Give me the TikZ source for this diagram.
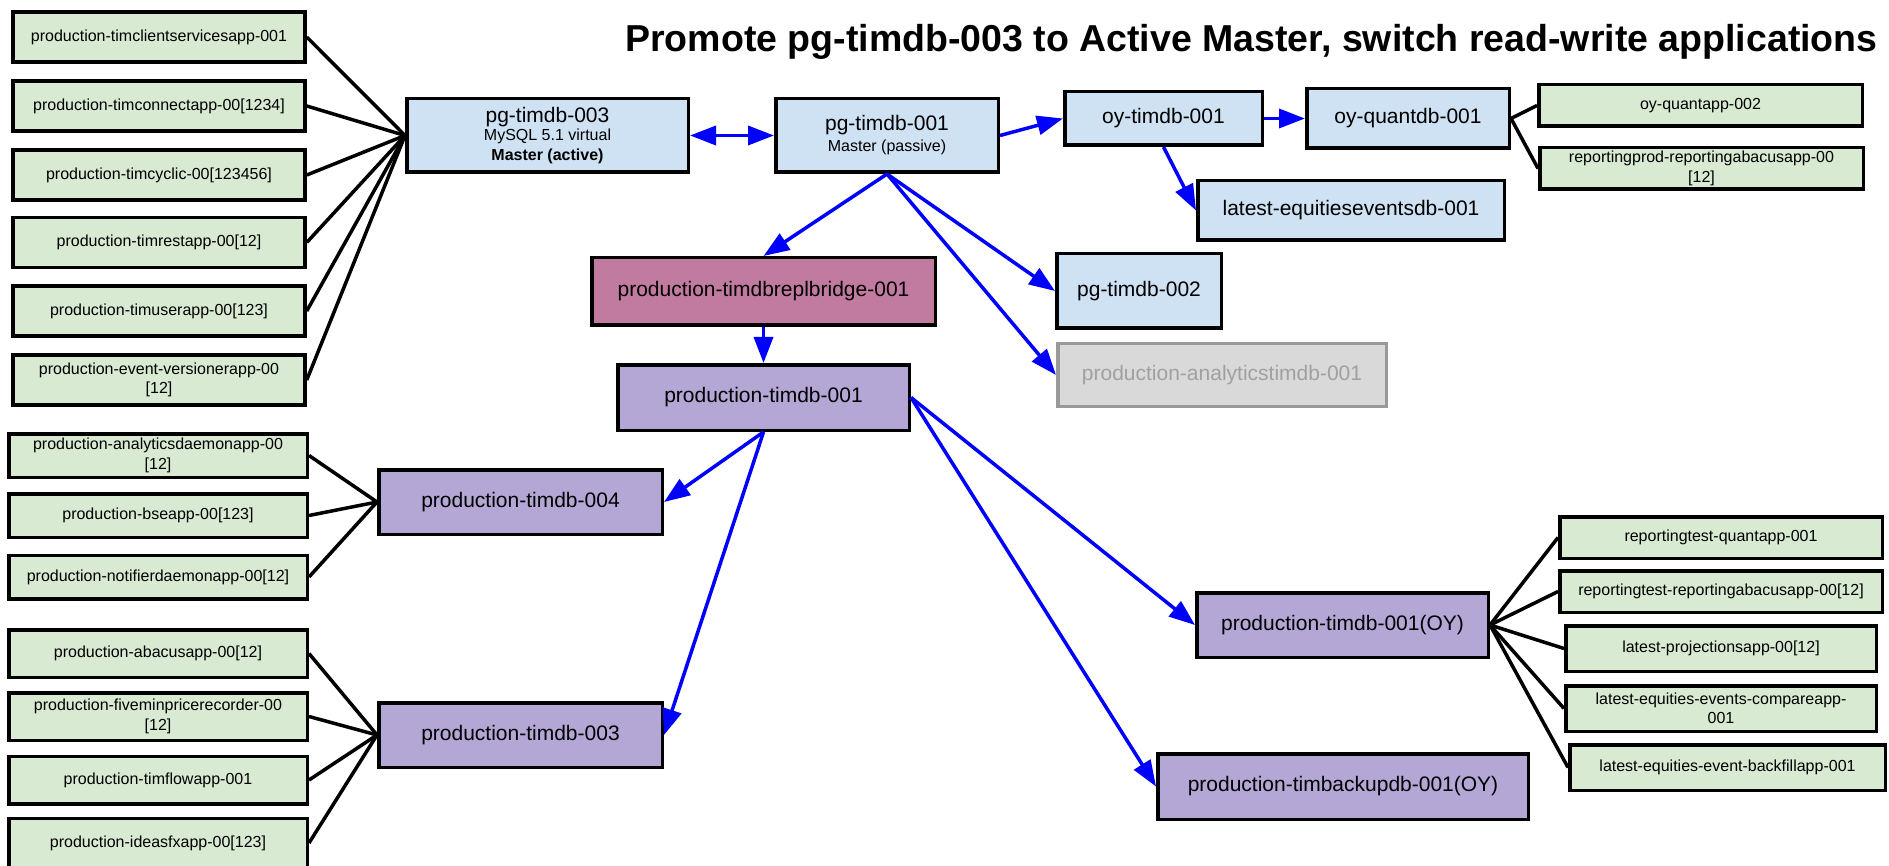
\documentclass[tikz,border=0pt]{standalone}
\usepackage{fontspec}
\setmainfont{Liberation Sans}
\usetikzlibrary{arrows.meta}
\definecolor{appgreen}{HTML}{D9EAD3}
\definecolor{dbblue}{HTML}{CFE2F3}
\definecolor{bridgepink}{HTML}{C27BA0}
\definecolor{prodpurple}{HTML}{B4A7D6}
\definecolor{offgrey}{HTML}{D9D9D9}
\definecolor{offborder}{HTML}{999999}
\definecolor{offtext}{HTML}{A0A0A0}
\definecolor{repblue}{HTML}{0000FF}
\tikzset{
  box/.style={draw=black, line width=3.5pt, inner sep=0pt, align=center,
    font=\fontsize{21}{23}\selectfont},
  app/.style={box, fill=appgreen, font=\fontsize{16}{19.5}\selectfont},
  bluedb/.style={box, fill=dbblue},
  proddb/.style={box, fill=prodpurple},
  bridgedb/.style={box, fill=bridgepink},
  offdb/.style={box, draw=offborder, fill=offgrey, text=offtext},
  link/.style={line width=3.5pt, black},
  rep/.style={line width=3.5pt, repblue, -{Triangle[length=26pt,width=19pt]}},
  birep/.style={line width=3.5pt, repblue, {Triangle[length=26pt,width=19pt]}-{Triangle[length=26pt,width=19pt]}},
  titletext/.style={font=\fontsize{37.5}{40}\selectfont\bfseries, inner sep=0pt}
}
\begin{document}
\begin{tikzpicture}[x=1pt,y=-1pt]
\useasboundingbox (0,0) rectangle (1889,866);
\fill[white] (0,0) rectangle (1889,866);

% title
\node[titletext, anchor=base] (title) at (1251.5,52) {Promote pg-timdb-003 to Active Master, switch read-write applications};

% left app group (pg-timdb-003)
\node[app, minimum width=292pt, minimum height=50pt] (g1) at (159,37) {production-timclientservicesapp-001};
\node[app, minimum width=292pt, minimum height=50pt] (g2) at (159,106) {production-timconnectapp-00[1234]};
\node[app, minimum width=292pt, minimum height=50pt] (g3) at (159,175) {production-timcyclic-00[123456]};
\node[app, minimum width=292pt, minimum height=50pt] (g4) at (159,242.5) {production-timrestapp-00[12]};
\node[app, minimum width=292pt, minimum height=50pt] (g5) at (159,311) {production-timuserapp-00[123]};
\node[app, minimum width=292pt, minimum height=50pt] (g6) at (159,380) {production-event-versionerapp-00\\{}[12]};

% database nodes
\node[bluedb, minimum width=281.5pt, minimum height=73.5pt] (p3) at (547.5,135.5)
  {pg-timdb-003\\[-5pt]{\fontsize{16}{19}\selectfont MySQL 5.1 virtual}\\[-3pt]{\fontsize{16}{19}\selectfont\bfseries Master (active)}};
\node[bluedb, minimum width=222.5pt, minimum height=73.5pt] (p1) at (887,135.5)
  {pg-timdb-001\\[-2pt]{\fontsize{16}{19}\selectfont Master (passive)}};
\node[bluedb, minimum width=197.5pt, minimum height=53.5pt] (oyt) at (1163.5,118.5) {oy-timdb-001};
\node[bluedb, minimum width=202.5pt, minimum height=59.5pt] (oyq) at (1408,118.5) {oy-quantdb-001};
\node[bluedb, minimum width=306.5pt, minimum height=59.5pt] (leq) at (1351,210.5) {latest-equitieseventsdb-001};
\node[bluedb, minimum width=164.5pt, minimum height=74.5pt] (p2) at (1139,291) {pg-timdb-002};
\node[offdb, minimum width=328.5pt, minimum height=62.5pt] (ana) at (1222,375) {production-analyticstimdb-001};
\node[bridgedb, minimum width=343.5pt, minimum height=67.5pt] (bridge) at (763.5,291.5) {production-timdbreplbridge-001};
\node[proddb, minimum width=291.5pt, minimum height=65.5pt] (pt1) at (763.5,397.5) {production-timdb-001};
\node[proddb, minimum width=283.5pt, minimum height=64.5pt] (pt4) at (520.5,502) {production-timdb-004};
\node[proddb, minimum width=283.5pt, minimum height=64.5pt] (pt3) at (520.5,735) {production-timdb-003};
\node[proddb, minimum width=291.5pt, minimum height=64.5pt] (oy1) at (1342.5,625) {production-timdb-001(OY)};
\node[proddb, minimum width=370.5pt, minimum height=65.5pt] (bk) at (1343,786.5) {production-timbackupdb-001(OY)};

% oy-quantdb apps
\node[app, minimum width=323.5pt, minimum height=41.5pt] (oyqa) at (1700.5,105.5) {oy-quantapp-002};
\node[app, minimum width=323.5pt, minimum height=41.5pt] (rpa) at (1701.5,168.5) {reportingprod-reportingabacusapp-00\\{}[12]};

% production-timdb-004 apps
\node[app, minimum width=298.5pt, minimum height=43.5pt] (h1) at (158,455.5) {production-analyticsdaemonapp-00\\{}[12]};
\node[app, minimum width=298.5pt, minimum height=43.5pt] (h2) at (158,515.5) {production-bseapp-00[123]};
\node[app, minimum width=298.5pt, minimum height=43.5pt] (h3) at (158,577) {production-notifierdaemonapp-00[12]};

% production-timdb-003 apps
\node[app, minimum width=298.5pt, minimum height=47.5pt] (k1) at (158,653.5) {production-abacusapp-00[12]};
\node[app, minimum width=298.5pt, minimum height=47.5pt] (k2) at (158,716.5) {production-fiveminpricerecorder-00\\{}[12]};
\node[app, minimum width=298.5pt, minimum height=47.5pt] (k3) at (158,780) {production-timflowapp-001};
\node[app, minimum width=298.5pt, minimum height=49pt] (k4) at (158,843) {production-ideasfxapp-00[123]};

% production-timdb-001(OY) apps
\node[app, minimum width=322.5pt, minimum height=41.5pt] (r1) at (1721,537.5) {reportingtest-quantapp-001};
\node[app, minimum width=322.5pt, minimum height=41.5pt] (r2) at (1721,591.5) {reportingtest-reportingabacusapp-00[12]};
\node[app, minimum width=310.5pt, minimum height=45.5pt] (r3) at (1721,648.5) {latest-projectionsapp-00[12]};
\node[app, minimum width=310.5pt, minimum height=45.5pt] (r4) at (1721,708.5) {latest-equities-events-compareapp-\\001};
\node[app, minimum width=315.5pt, minimum height=45.5pt] (r5) at (1727.5,767.5) {latest-equities-event-backfillapp-001};

% app links
\foreach \g in {g1,g2,g3,g4,g5,g6} \draw[link] (\g.east) -- (p3.west);
\foreach \g in {h1,h2,h3} \draw[link] (\g.east) -- (pt4.west);
\foreach \g in {k1,k2,k3,k4} \draw[link] (\g.east) -- (pt3.west);
\foreach \g in {oyqa,rpa} \draw[link] (oyq.east) -- (\g.west);
\foreach \g in {r1,r2,r3,r4,r5} \draw[link] (oy1.east) -- (\g.west);

% replication arrows
\draw[birep] (p3.east) -- (p1.west);
\draw[rep] (p1.east) -- (oyt.west);
\draw[rep] (oyt.east) -- (oyq.west);
\draw[rep] (oyt.south) -- (leq.west);
\draw[rep] (p1.south) -- (bridge.north);
\draw[rep] (p1.south) -- (p2.west);
\draw[rep] (p1.south) -- (ana.west);
\draw[rep] (bridge.south) -- (pt1.north);
\draw[rep] (pt1.south) -- (pt4.east);
\draw[rep] (pt1.south) -- (pt3.east);
\draw[rep] (pt1.east) -- (oy1.west);
\draw[rep] (pt1.east) -- (bk.west);
\end{tikzpicture}
\end{document}
